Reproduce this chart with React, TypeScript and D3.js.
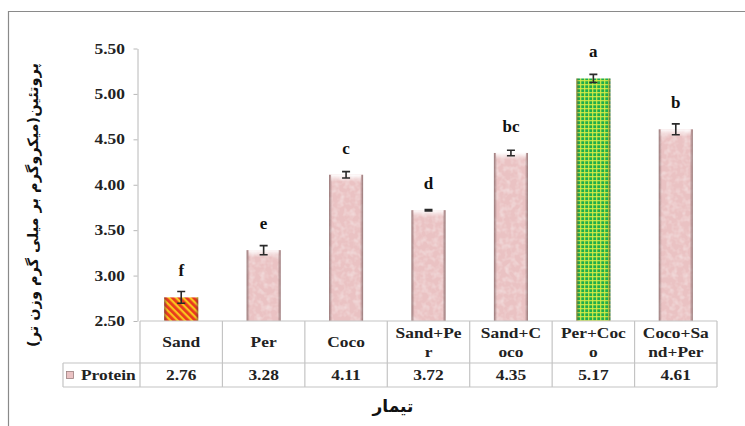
import * as d3 from 'd3';
import React, { useRef, useEffect } from 'react';

// chart data
const categories = ['Sand', 'Per', 'Coco', 'Sand+Per', 'Sand+Coco', 'Per+Coco', 'Coco+Sand+Per'];
const categoryLines = [['Sand'], ['Per'], ['Coco'], ['Sand+Pe', 'r'], ['Sand+C', 'oco'], ['Per+Coc', 'o'], ['Coco+Sa', 'nd+Per']];
const protein = [2.76, 3.28, 4.11, 3.72, 4.35, 5.17, 4.61];
const errors = [0.065, 0.05, 0.035, 0.008, 0.03, 0.045, 0.06];
const letters = ['f', 'e', 'c', 'd', 'bc', 'a', 'b'];
const yTicks = [2.5, 3.0, 3.5, 4.0, 4.5, 5.0, 5.5];
const fills = ['url(#stripes)', 'pink', 'pink', 'pink', 'pink', 'url(#check)', 'pink'];

const serif = 'Liberation Serif, DejaVu Serif, serif';
const persian = 'DejaVu Sans, sans-serif';

function Chart({ width, height }) {
    const ref = useRef(null);

    useEffect(() => {
        const svg = d3.select(ref.current);
        svg.selectAll('*').remove();

        const left = 140, right = 717, top = 48.5, bottom = 321;
        const row1 = 363, row2 = 387, legendLeft = 63;
        const pinkColor = '#eac2c3';
        const stretch = 1.2;

        const defs = svg.append('defs');

        // diagonal red / yellow stripes
        const st = defs.append('pattern').attr('id', 'stripes').attr('width', 5).attr('height', 5)
            .attr('patternUnits', 'userSpaceOnUse').attr('patternTransform', 'rotate(-45)');
        st.append('rect').attr('width', 5).attr('height', 5).attr('fill', '#f7c51c');
        st.append('rect').attr('width', 2.8).attr('height', 5).attr('fill', '#e8381f');

        // green check
        const ck = defs.append('pattern').attr('id', 'check').attr('width', 4).attr('height', 4)
            .attr('patternUnits', 'userSpaceOnUse');
        ck.append('rect').attr('width', 4).attr('height', 4).attr('fill', '#20ad4b');
        ck.append('rect').attr('width', 1.3).attr('height', 4).attr('fill', '#d9ec45').attr('opacity', 0.85);
        ck.append('rect').attr('width', 4).attr('height', 1.3).attr('fill', '#d9ec45').attr('opacity', 0.85);

        // marble texture
        const f = defs.append('filter').attr('id', 'marble').attr('x', 0).attr('y', 0).attr('width', 1).attr('height', 1);
        f.append('feTurbulence').attr('type', 'fractalNoise').attr('baseFrequency', 0.18).attr('numOctaves', 2).attr('seed', 3).attr('result', 'n');
        f.append('feColorMatrix').attr('in', 'n').attr('type', 'matrix')
            .attr('values', '0 0 0 0 1  0 0 0 0 1  0 0 0 0 1  0.7 0 0 0 -0.28').attr('result', 'c');
        f.append('feComposite').attr('in', 'c').attr('in2', 'SourceGraphic').attr('operator', 'in').attr('result', 'cc');
        const fm = f.append('feMerge');
        fm.append('feMergeNode').attr('in', 'SourceGraphic');
        fm.append('feMergeNode').attr('in', 'cc');

        // bevel gradients
        const side = defs.append('linearGradient').attr('id', 'side').attr('x1', 0).attr('x2', 1).attr('y1', 0).attr('y2', 0);
        side.append('stop').attr('offset', '0%').attr('stop-color', '#5a4040').attr('stop-opacity', 0.6);
        side.append('stop').attr('offset', '9%').attr('stop-color', '#5a4040').attr('stop-opacity', 0);
        side.append('stop').attr('offset', '91%').attr('stop-color', '#5a4040').attr('stop-opacity', 0);
        side.append('stop').attr('offset', '100%').attr('stop-color', '#5a4040').attr('stop-opacity', 0.6);
        const topG = defs.append('linearGradient').attr('id', 'topg').attr('x1', 0).attr('x2', 0).attr('y1', 0).attr('y2', 1);
        topG.append('stop').attr('offset', '0%').attr('stop-color', '#fff').attr('stop-opacity', 0.95);
        topG.append('stop').attr('offset', '100%').attr('stop-color', '#fff').attr('stop-opacity', 0);

        // outer frame
        svg.append('path').attr('d', `M8.5,${height} V11.5 H${width}`)
            .attr('fill', 'none').attr('stroke', '#8a8a8a').attr('stroke-width', 1.2);

        const x = d3.scaleBand().domain(categories).range([left, right]).paddingInner(0.587).paddingOuter(0.2935);
        const y = d3.scaleLinear().domain([2.5, 5.5]).range([bottom, top]);
        const step = x.step();
        const idx = d => categories.indexOf(d);

        // stretched bold serif label, like the original's widened text
        const label = (g, tx, ty, t, anchor, size) => g.append('text')
            .attr('transform', `translate(${tx},${ty}) scale(${stretch},1)`)
            .attr('dy', '0.35em').attr('text-anchor', anchor)
            .attr('font-family', serif).attr('font-weight', 'bold').attr('font-size', size)
            .attr('fill', '#222').text(t);

        // y axis
        const yAxis = d3.axisLeft(y).tickValues(yTicks).tickFormat(() => '').tickSize(4).tickSizeOuter(0);
        const ga = svg.append('g').attr('transform', `translate(${left - 2.5},0)`).call(yAxis);
        ga.select('.domain').attr('stroke', '#b8b8b8');
        ga.selectAll('.tick line').attr('stroke', '#b8b8b8');
        const tl = svg.append('g');
        yTicks.forEach(t => label(tl, 125, y(t), d3.format('.2f')(t), 'end', 14.5));

        // bars
        const bars = svg.append('g').selectAll('g').data(categories).enter().append('g');
        bars.append('rect')
            .attr('x', d => x(d)).attr('width', x.bandwidth())
            .attr('y', d => y(protein[idx(d)])).attr('height', d => bottom - y(protein[idx(d)]))
            .attr('fill', d => fills[idx(d)] === 'pink' ? pinkColor : fills[idx(d)])
            .attr('filter', d => fills[idx(d)] === 'pink' ? 'url(#marble)' : null);
        bars.append('rect')
            .attr('x', d => x(d)).attr('width', x.bandwidth())
            .attr('y', d => y(protein[idx(d)])).attr('height', d => bottom - y(protein[idx(d)]))
            .attr('fill', 'url(#side)');
        bars.filter(d => fills[idx(d)] === 'pink').append('rect')
            .attr('x', d => x(d) + 2).attr('width', x.bandwidth() - 4)
            .attr('y', d => y(protein[idx(d)])).attr('height', 7)
            .attr('fill', 'url(#topg)');

        // error bars
        bars.each(function (d) {
            const i = idx(d);
            const g = d3.select(this);
            const cx = x(d) + x.bandwidth() / 2;
            const y1 = y(protein[i] + errors[i]), y2 = y(protein[i] - errors[i]);
            g.append('path')
                .attr('d', `M${cx - 4},${y1} H${cx + 4} M${cx},${y1} V${y2} M${cx - 4},${y2} H${cx + 4}`)
                .attr('stroke', '#2a2a2a').attr('stroke-width', 1.6).attr('fill', 'none');
        });

        // significance letters
        bars.append('text')
            .attr('x', d => x(d) + x.bandwidth() / 2)
            .attr('y', d => y(protein[idx(d)]) - 21)
            .attr('text-anchor', 'middle')
            .attr('font-family', serif).attr('font-weight', 'bold').attr('font-size', 17)
            .attr('fill', '#111')
            .text(d => letters[idx(d)]);

        // data table
        const grid = '#c4c4c4';
        const tbl = svg.append('g').attr('fill', 'none').attr('stroke', grid).attr('stroke-width', 1.2);
        tbl.append('line').attr('x1', left).attr('x2', right).attr('y1', bottom).attr('y2', bottom);
        tbl.append('line').attr('x1', legendLeft).attr('x2', right).attr('y1', row1).attr('y2', row1);
        tbl.append('line').attr('x1', legendLeft).attr('x2', right).attr('y1', row2).attr('y2', row2);
        tbl.append('line').attr('x1', legendLeft).attr('x2', legendLeft).attr('y1', row1).attr('y2', row2);
        categories.forEach((c, i) => {
            tbl.append('line').attr('x1', left + step * i).attr('x2', left + step * i).attr('y1', bottom).attr('y2', row2);
        });
        tbl.append('line').attr('x1', right).attr('x2', right).attr('y1', bottom).attr('y2', row2);

        const cells = svg.append('g');
        categories.forEach((c, i) => {
            const cx = x(c) + x.bandwidth() / 2;
            const lines = categoryLines[i];
            lines.forEach((t, j) => {
                const cy = lines.length === 1 ? (bottom + row1) / 2 : (bottom + row1) / 2 + (j - 0.5) * 19;
                label(cells, cx, cy, t, 'middle', 14.5);
            });
            label(cells, cx, (row1 + row2) / 2, d3.format('.2f')(protein[i]), 'middle', 14.5);
        });

        // legend key in table
        svg.append('rect').attr('x', 66.5).attr('y', 371.5).attr('width', 7).attr('height', 7)
            .attr('fill', pinkColor).attr('stroke', '#9c7f7f').attr('stroke-width', 0.8);
        label(cells, 81, (row1 + row2) / 2, 'Protein', 'start', 14.5);

        // axis titles
        svg.append('text')
            .attr('transform', `translate(38,205) rotate(-90)`)
            .attr('text-anchor', 'middle')
            .attr('font-family', persian).attr('font-weight', 'bold').attr('font-size', 14.5)
            .attr('fill', '#111')
            .text('پروتئین(میکروگرم بر میلی گرم وزن تر)');
        svg.append('text')
            .attr('x', 393).attr('y', 412)
            .attr('text-anchor', 'middle')
            .attr('font-family', persian).attr('font-weight', 'bold').attr('font-size', 17)
            .attr('fill', '#111')
            .text('تیمار');
    }, []);

    return <svg ref={ref} width={width} height={height} style={{ position: 'absolute', left: 0, top: 0, background: '#fff' }}></svg>;
}

export default function App() {
    return (
        <div className="chart">
            <Chart width={745} height={426} />
        </div>
    );
}
